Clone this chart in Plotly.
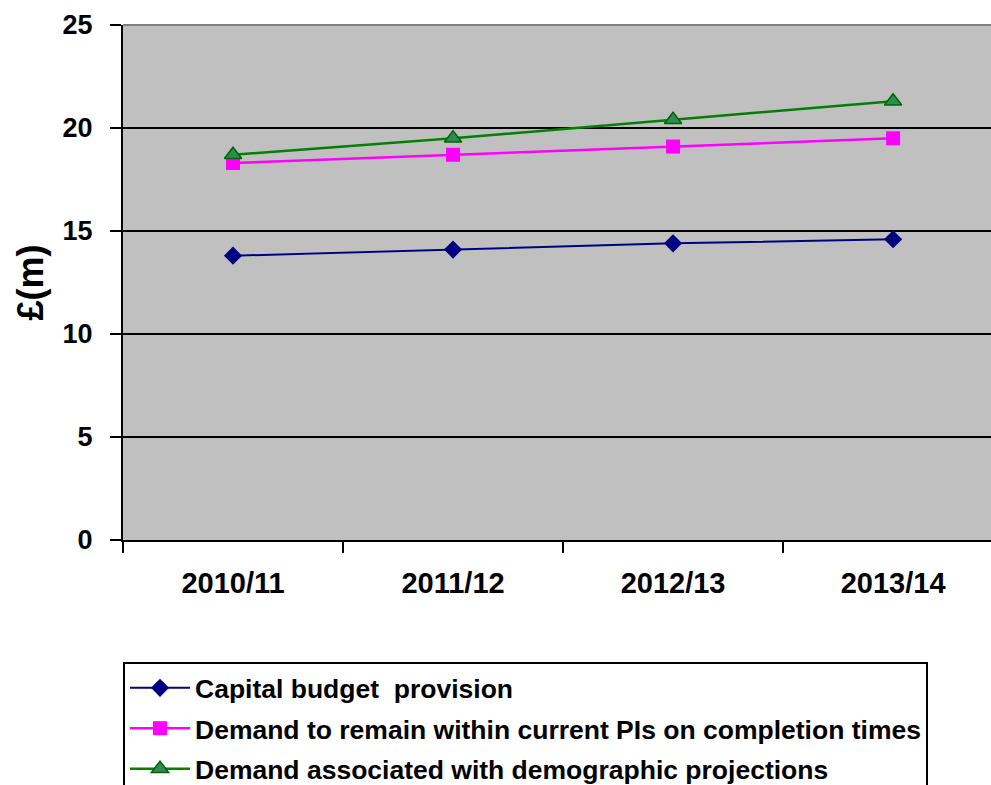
import plotly.graph_objects as go

# Financial years on the category axis
years = ["2010/11", "2011/12", "2012/13", "2013/14"]

# £ millions per year
capital_budget = [13.8, 14.1, 14.4, 14.6]
demand_current_pis = [18.3, 18.7, 19.1, 19.5]
demand_demographic = [18.7, 19.5, 20.4, 21.3]

series_names = [
    "Capital budget  provision",
    "Demand to remain within current PIs on completion times",
    "Demand associated with demographic projections",
]

y_ticks = [0, 5, 10, 15, 20, 25]

FONT = "Liberation Sans, Arial, sans-serif"

fig = go.Figure()

fig.add_trace(go.Scatter(
    x=years, y=capital_budget, name=series_names[0], mode="lines+markers",
    legendgroup="g1",
    line=dict(color="#000080", width=2),
    marker=dict(symbol="diamond", size=14, color="#000080"),
))
fig.add_trace(go.Scatter(
    x=years, y=demand_current_pis, name=series_names[1], mode="lines+markers",
    legendgroup="g2",
    line=dict(color="#FF00FF", width=2.5),
    marker=dict(symbol="square", size=14, color="#FF00FF"),
))
fig.add_trace(go.Scatter(
    x=years, y=demand_demographic, name=series_names[2], mode="lines+markers",
    legendgroup="g3",
    line=dict(color="#008000", width=2.5),
    marker=dict(symbol="triangle-up", size=15, color="#2E8B57",
                line=dict(color="#006400", width=1.5)),
))

fig.update_layout(
    width=991, height=785,
    margin=dict(l=123, r=0, t=25, b=245, autoexpand=False),
    paper_bgcolor="white",
    plot_bgcolor="#C0C0C0",
    font=dict(family=FONT, color="black", weight="bold"),
    showlegend=True,
    legend=dict(
        x=0, y=-0.237, xanchor="left", yanchor="top",
        bgcolor="white", bordercolor="black", borderwidth=2,
        font=dict(family=FONT, size=26.5, color="black", weight="bold"),
        itemwidth=60,
        tracegroupgap=3,
    ),
    xaxis=dict(
        type="category",
        range=[-0.5, 3.445],
        tickson="boundaries",
        ticks="outside", ticklen=11, tickwidth=2, tickcolor="black",
        showline=True, linecolor="black", linewidth=2,
        showgrid=False, zeroline=False,
        tickfont=dict(family=FONT, size=29, color="black", weight="bold"),
        ticklabelstandoff=16,
    ),
    yaxis=dict(
        range=[0, 25],
        tickvals=y_ticks,
        ticks="outside", ticklen=11, tickwidth=2, tickcolor="black",
        showline=True, linecolor="black", linewidth=2,
        showgrid=True, gridcolor="black", gridwidth=2,
        zeroline=False,
        tickfont=dict(family=FONT, size=27, color="black", weight="bold"),
        ticklabelstandoff=12,
    ),
    annotations=[dict(
        text="£(m)", xref="paper", yref="paper",
        x=-0.107, y=0.5, xanchor="center", yanchor="middle",
        textangle=-90, showarrow=False,
        font=dict(family=FONT, size=36, color="black", weight="bold"),
    )],
    shapes=[dict(
        type="line", xref="paper", yref="paper",
        x0=0, x1=1, y0=1, y1=1,
        line=dict(color="#808080", width=2),
    )],
)

fig.write_html("out.html")
